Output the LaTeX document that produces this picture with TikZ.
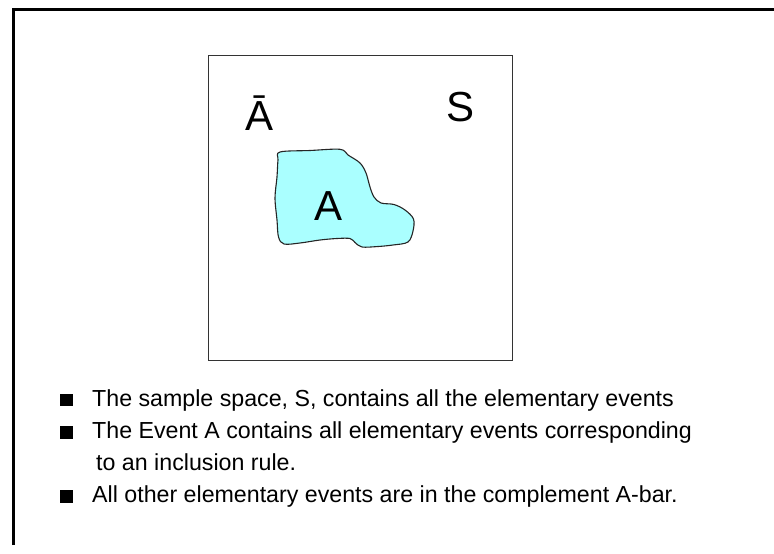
\documentclass[tikz,border=0pt]{standalone}
\usepackage{fontspec}
\setmainfont{Liberation Sans}
\definecolor{cyanlight}{RGB}{170,255,255}
\tikzset{
  frameline/.style={line width=3.3pt, line join=miter, line cap=butt},
  spacebox/.style={draw=black!80, line width=0.9pt},
  eventblob/.style={draw=black!85, line width=1.1pt, fill=cyanlight},
  bigletter/.style={font=\fontsize{42}{48}\selectfont, inner sep=0pt, anchor=base},
  bullettext/.style={font=\fontsize{23.2}{28}\selectfont, inner sep=0pt, anchor=base west},
  bulletsq/.style={fill=black, minimum size=12.5pt, inner sep=0pt},
}
\begin{document}
\begin{tikzpicture}[x=1pt,y=-1pt]
\useasboundingbox (0,0) rectangle (774,554);
% outer frame (top and left only)
\draw[frameline] (13.3,545) -- (13.3,9.5) -- (774,9.5);
% sample space
\draw[spacebox] (208,55) rectangle (512,360);
% event A
\draw[eventblob] plot[smooth cycle, tension=0.55] coordinates {
 (280,152) (310,150.5) (340,149.3) (348,155) (360,163) (366,173)
 (370,187) (374,197) (381,203) (394,204.5) (405,210) (413.5,219)
 (413,231) (408,242) (393,245) (378,246.5) (362,247) (355,242.5)
 (350,238.5) (337,238.5) (320,240) (300,243) (284,244) (278.5,237)
 (277,220) (275,198) (277,177) (278,160)};
\node[bigletter] (abar) at (260,130) {Ā};
\node[bigletter] (s) at (460.5,121) {S};
\node[bigletter] (a) at (328.5,220.5) {A};
% bullets
\node[bulletsq] (b1) at (66.5,400) {};
\node[bulletsq] (b2) at (66.5,432.5) {};
\node[bulletsq] (b4) at (66.5,496.5) {};
\node[bullettext] (t1) at (92,406.5) {The sample space, S, contains all the elementary events};
\node[bullettext] (t2) at (92,438.5) {The Event A contains all elementary events corresponding};
\node[bullettext] (t3) at (96,470.5) {to an inclusion rule.};
\node[bullettext] (t4) at (92,502.5) {All other elementary events are in the complement A-bar.};
\end{tikzpicture}
\end{document}
